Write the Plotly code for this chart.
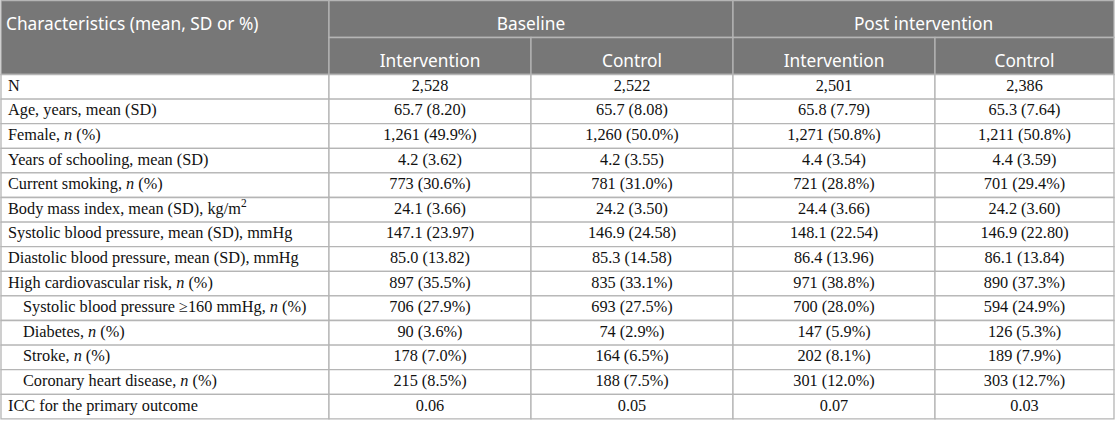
import plotly.graph_objects as go

# table content
characteristics = [
    "N",
    "Age, years, mean (SD)",
    "Female, <i>n</i> (%)",
    "Years of schooling, mean (SD)",
    "Current smoking, <i>n</i> (%)",
    "Body mass index, mean (SD), kg/m<sup>2</sup>",
    "Systolic blood pressure, mean (SD), mmHg",
    "Diastolic blood pressure, mean (SD), mmHg",
    "High cardiovascular risk, <i>n</i> (%)",
    "Systolic blood pressure ≥160 mmHg, <i>n</i> (%)",
    "Diabetes, <i>n</i> (%)",
    "Stroke, <i>n</i> (%)",
    "Coronary heart disease, <i>n</i> (%)",
    "ICC for the primary outcome",
]
sub_rows = [False] * 9 + [True] * 4 + [False]

baseline_intervention = [
    "2,528", "65.7 (8.20)", "1,261 (49.9%)", "4.2 (3.62)", "773 (30.6%)",
    "24.1 (3.66)", "147.1 (23.97)", "85.0 (13.82)", "897 (35.5%)",
    "706 (27.9%)", "90 (3.6%)", "178 (7.0%)", "215 (8.5%)", "0.06",
]
baseline_control = [
    "2,522", "65.7 (8.08)", "1,260 (50.0%)", "4.2 (3.55)", "781 (31.0%)",
    "24.2 (3.50)", "146.9 (24.58)", "85.3 (14.58)", "835 (33.1%)",
    "693 (27.5%)", "74 (2.9%)", "164 (6.5%)", "188 (7.5%)", "0.05",
]
post_intervention = [
    "2,501", "65.8 (7.79)", "1,271 (50.8%)", "4.4 (3.54)", "721 (28.8%)",
    "24.4 (3.66)", "148.1 (22.54)", "86.4 (13.96)", "971 (38.8%)",
    "700 (28.0%)", "147 (5.9%)", "202 (8.1%)", "301 (12.0%)", "0.07",
]
post_control = [
    "2,386", "65.3 (7.64)", "1,211 (50.8%)", "4.4 (3.59)", "701 (29.4%)",
    "24.2 (3.60)", "146.9 (22.80)", "86.1 (13.84)", "890 (37.3%)",
    "594 (24.9%)", "126 (5.3%)", "189 (7.9%)", "303 (12.7%)", "0.03",
]

first_header = "Characteristics (mean, SD or %)"
group_headers = ["Baseline", "Post intervention"]
sub_headers = ["Intervention", "Control", "Intervention", "Control"]

# geometry (pixel-like units)
W, H = 1116, 423
col_edges = [1, 329, 531, 733, 935, 1114]
header_h = 37
top = 0.5
body_top = top + 2 * header_h
row_h = 24.6
header_text_drop = 7  # header labels sit a little below the cell middle

HEADER_BG = "#777777"
BORDER = "#b5b5b5"
SANS = "Noto Sans, Open Sans, sans-serif"
SERIF = "Liberation Serif, Times New Roman, serif"
BODY_SIZE = 16.3
HEAD_SIZE = 17.3

fig = go.Figure()
shapes = []

def rect(x0, y0, x1, y1, fill):
    shapes.append(dict(type="rect", xref="x", yref="y", x0=x0, x1=x1, y0=y0, y1=y1,
                       fillcolor=fill, line=dict(color=BORDER, width=1.3), layer="below"))

# header cells
rect(col_edges[0], top, col_edges[1], body_top, HEADER_BG)
rect(col_edges[1], top, col_edges[3], top + header_h, HEADER_BG)
rect(col_edges[3], top, col_edges[5], top + header_h, HEADER_BG)
for i in range(4):
    rect(col_edges[i + 1], top + header_h, col_edges[i + 2], body_top, HEADER_BG)

# body cells
n_rows = len(characteristics)
for r in range(n_rows):
    y0 = body_top + r * row_h
    for c in range(5):
        rect(col_edges[c], y0, col_edges[c + 1], y0 + row_h, "white")

# header text
head_y1 = top + header_h / 2 + header_text_drop
head_y2 = top + header_h * 1.5 + header_text_drop
fig.add_trace(go.Scatter(
    x=[col_edges[0] + 5], y=[head_y1], text=[first_header],
    mode="text", textposition="middle right",
    textfont=dict(family=SANS, size=HEAD_SIZE, color="white"), hoverinfo="skip"))
fig.add_trace(go.Scatter(
    x=[(col_edges[1] + col_edges[3]) / 2, (col_edges[3] + col_edges[5]) / 2],
    y=[head_y1] * 2, text=group_headers,
    mode="text", textposition="middle center",
    textfont=dict(family=SANS, size=HEAD_SIZE, color="white"), hoverinfo="skip"))
fig.add_trace(go.Scatter(
    x=[(col_edges[i + 1] + col_edges[i + 2]) / 2 for i in range(4)],
    y=[head_y2] * 4, text=sub_headers,
    mode="text", textposition="middle center",
    textfont=dict(family=SANS, size=HEAD_SIZE, color="white"), hoverinfo="skip"))

# body text
row_y = [body_top + (r + 0.5) * row_h for r in range(n_rows)]
fig.add_trace(go.Scatter(
    x=[col_edges[0] + (22 if s else 7) for s in sub_rows], y=row_y,
    text=characteristics, mode="text", textposition="middle right",
    textfont=dict(family=SERIF, size=BODY_SIZE, color="#111111"), hoverinfo="skip"))
for c, col in enumerate([baseline_intervention, baseline_control, post_intervention, post_control]):
    fig.add_trace(go.Scatter(
        x=[(col_edges[c + 1] + col_edges[c + 2]) / 2] * n_rows, y=row_y,
        text=col, mode="text", textposition="middle center",
        textfont=dict(family=SERIF, size=BODY_SIZE, color="#111111"), hoverinfo="skip"))

fig.update_layout(
    width=W, height=H,
    margin=dict(l=0, r=0, t=0, b=0),
    paper_bgcolor="white", plot_bgcolor="white",
    showlegend=False,
    shapes=shapes,
    xaxis=dict(range=[0, W], visible=False, fixedrange=True),
    yaxis=dict(range=[H, 0], visible=False, fixedrange=True),
)

# drop the default page margin so the table sits at the window corner
fig.write_html("out.html", config={"displayModeBar": False},
               post_script="document.body.style.margin='0';")
